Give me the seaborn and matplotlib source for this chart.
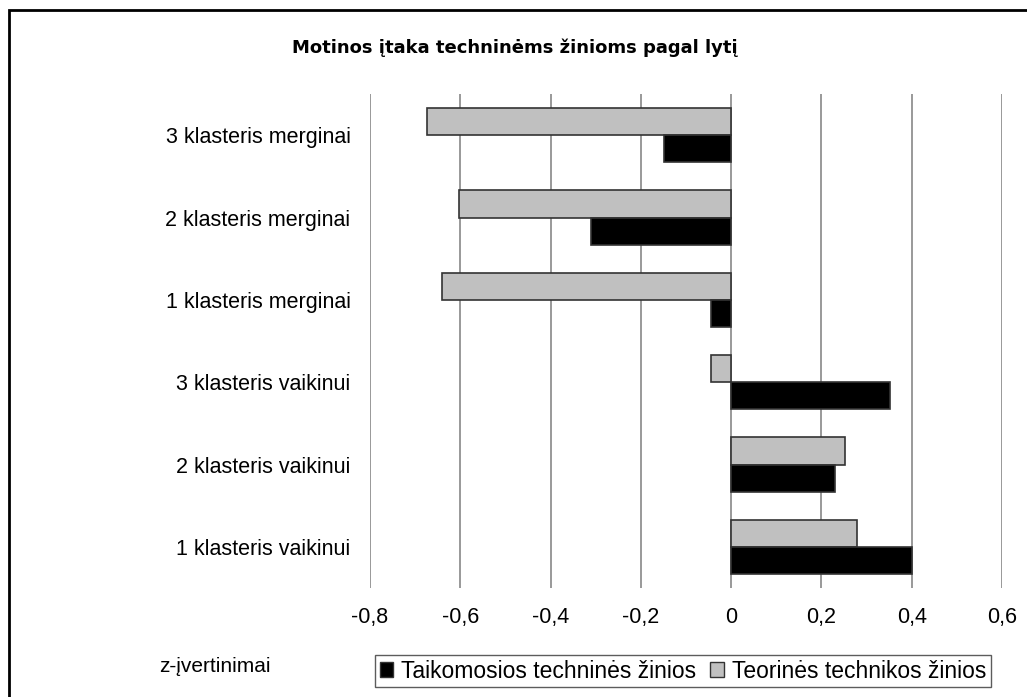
import matplotlib
matplotlib.use('Agg')
import pandas as pd
import matplotlib.pyplot as plt
import seaborn as sns
from matplotlib.patches import Rectangle, Patch

# values
groups = ['3 klasteris merginai', '2 klasteris merginai', '1 klasteris merginai',
          '3 klasteris vaikinui', '2 klasteris vaikinui', '1 klasteris vaikinui']
taikomosios = [-0.148, -0.311, -0.044, 0.353, 0.230, 0.400]
teorines = [-0.673, -0.603, -0.640, -0.044, 0.252, 0.278]
series = ['Teorinės technikos žinios', 'Taikomosios techninės žinios']
colors = {'Teorinės technikos žinios': '#c0c0c0', 'Taikomosios techninės žinios': '#000000'}
xticks = [-0.8, -0.6, -0.4, -0.2, 0, 0.2, 0.4, 0.6]

df = pd.DataFrame({'grupe': groups * 2,
                   'z': teorines + taikomosios,
                   'serija': [series[0]] * 6 + [series[1]] * 6})

sns.set_style('white')
plt.rcParams['font.family'] = ['Liberation Sans', 'DejaVu Sans']
plt.rcParams['text.color'] = 'black'
plt.rcParams['xtick.color'] = 'black'
plt.rcParams['ytick.color'] = 'black'

fig = plt.figure(figsize=(10.27, 6.97), dpi=100)
ax = fig.add_axes([370 / 1027, 1 - 588 / 697, 632 / 1027, 494 / 697])

sns.barplot(data=df, y='grupe', x='z', hue='serija', order=groups, hue_order=series,
            palette=colors, orient='h', width=0.66, edgecolor='#333333', linewidth=1.2,
            legend=False, ax=ax)

ax.set_xlim(-0.8, 0.6)
ax.set_xticks(xticks)
ax.set_xticklabels(['0' if t == 0 else f'{t:.1f}'.replace('.', ',') for t in xticks], fontsize=15.5)
ax.tick_params(axis='x', length=0, pad=14)
ax.tick_params(axis='y', length=0, pad=14, labelsize=15.5)
for t in xticks:
    ax.axvline(t, color='#888888', lw=1.2, zorder=0)
ax.set_xlabel('')
ax.set_ylabel('')
for s in ax.spines.values():
    s.set_visible(False)

fig.text(515 / 1027, 1 - 48 / 697, 'Motinos įtaka techninėms žinioms pagal lytį',
         ha='center', va='center', fontsize=13, fontweight='bold', family='DejaVu Sans')
fig.text(215 / 1027, 1 - 666 / 697, 'z-įvertinimai', ha='center', va='center', fontsize=15)

handles = [Patch(facecolor='#000000', edgecolor='#333333'),
           Patch(facecolor='#c0c0c0', edgecolor='#333333')]
leg = fig.legend(handles, [series[1], series[0]], ncol=2, loc='upper left',
                 bbox_to_anchor=(375 / 1027, 1 - 655 / 697), fontsize=16.5, frameon=True,
                 fancybox=False, handlelength=0.6, handleheight=0.6, handletextpad=0.35,
                 columnspacing=0.6, borderpad=0.2, borderaxespad=0)
leg.get_frame().set_edgecolor('#333333')
leg.get_frame().set_linewidth(1.0)

fig.patches.append(Rectangle((9 / 1027, -0.1), 1.2, 1 - 10 / 697 + 0.1, transform=fig.transFigure,
                             fill=False, edgecolor='black', lw=2))

fig.savefig('out.png', dpi=100)
